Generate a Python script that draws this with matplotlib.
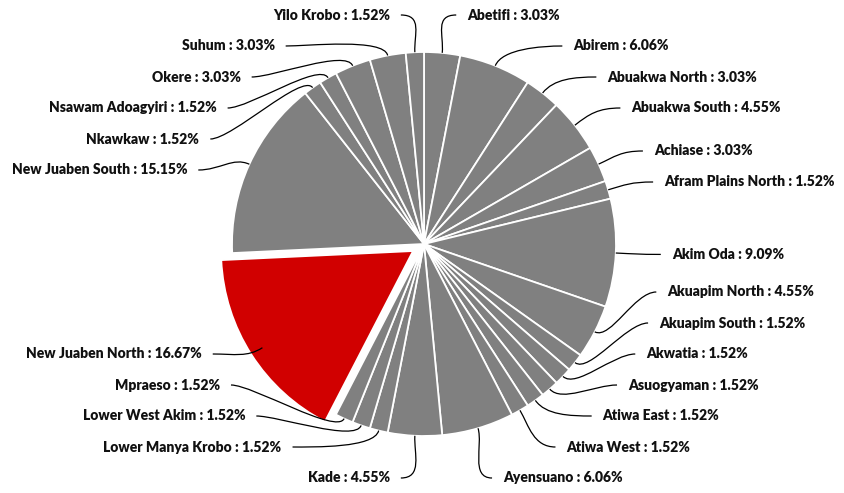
import numpy as np
import matplotlib.pyplot as plt
from matplotlib.path import Path
from matplotlib.patches import PathPatch

plt.rcParams['font.family'] = ['Lato', 'DejaVu Sans']

# constituencies clockwise from 12 o'clock, share of total in %
names = ['Abetifi', 'Abirem', 'Abuakwa North', 'Abuakwa South', 'Achiase',
         'Afram Plains North', 'Akim Oda', 'Akuapim North', 'Akuapim South',
         'Akwatia', 'Asuogyaman', 'Atiwa East', 'Atiwa West', 'Ayensuano',
         'Kade', 'Lower Manya Krobo', 'Lower West Akim', 'Mpraeso',
         'New Juaben North', 'New Juaben South', 'Nkawkaw', 'Nsawam Adoagyiri',
         'Okere', 'Suhum', 'Yilo Krobo']
shares = [3.03, 6.06, 3.03, 4.55, 3.03,
          1.52, 9.09, 4.55, 1.52,
          1.52, 1.52, 1.52, 1.52, 6.06,
          4.55, 1.52, 1.52, 1.52,
          16.67, 15.15, 1.52, 1.52,
          3.03, 3.03, 1.52]
highlight = 'New Juaben North'

W, H = 844, 493
cx, cy, r = 424, 249, 192
gap = 31

fig = plt.figure(figsize=(W / 100, H / 100), dpi=100)
ax = fig.add_axes([0, 0, 1, 1])

colors = ['#d10000' if n == highlight else '#808080' for n in names]
explode = [13 if n == highlight else 0 for n in names]
ax.pie(shares, colors=colors, explode=explode, startangle=90, counterclock=False,
       center=(cx, cy), radius=r,
       wedgeprops=dict(edgecolor='white', linewidth=1.3))

frac = np.array(shares) / sum(shares)
mid = np.radians((np.cumsum(frac) - frac / 2) * 360)  # clockwise from top


def spread(nat, lo, hi):
    # push labels apart (pixel y, downwards), keep inside [lo, hi]
    clusters = [[i] for i in range(len(nat))]

    def start(c):
        s = np.mean([nat[i] for i in c]) - gap * (len(c) - 1) / 2
        return min(max(s, lo), hi - gap * (len(c) - 1))

    merged = True
    while merged:
        merged = False
        for k in range(len(clusters) - 1):
            end_k = start(clusters[k]) + gap * (len(clusters[k]) - 1)
            if start(clusters[k + 1]) - end_k < gap - 0.01:
                clusters[k] = clusters[k] + clusters.pop(k + 1)
                merged = True
                break
    out = []
    for c in clusters:
        s = start(c)
        out += [s + gap * j for j in range(len(c))]
    return out


cy_pix = H - cy
nat_y = cy_pix - 222 * np.cos(mid)
right = [i for i in np.argsort(nat_y) if np.sin(mid[i]) > 0]
left = [i for i in np.argsort(nat_y) if np.sin(mid[i]) <= 0]

for side, idx in ((1, right), (-1, left)):
    ys = spread([nat_y[i] for i in idx], 15, 478)
    for i, yp in zip(idx, ys):
        dy = yp - cy_pix
        off = np.sqrt(max(248 ** 2 - dy ** 2, 0))
        if abs(dy) > 215:
            off = min(off, abs(r * np.sin(mid[i])) + 25)
        lx, ly = cx + side * off, H - yp
        ux, uy = np.sin(mid[i]), np.cos(mid[i])
        p0 = (cx + r * ux, cy + r * uy)
        p1 = (cx + (r + 18) * ux, cy + (r + 18) * uy)
        e = (lx - side * 11, ly)
        p2 = (e[0] - side * 22, ly)
        path = Path([p0, p1, p2, e], [Path.MOVETO, Path.CURVE4, Path.CURVE4, Path.CURVE4])
        ax.add_patch(PathPatch(path, facecolor='none', edgecolor='black', lw=0.9))
        ax.text(lx, ly, f'{names[i]} : {shares[i]:.2f}%', ha='left' if side > 0 else 'right',
                va='center', fontsize=10, fontweight='heavy', color='#111111')

ax.set_xlim(0, W)
ax.set_ylim(0, H)
ax.set_aspect('equal')
ax.axis('off')
fig.savefig('out.png', dpi=100)
